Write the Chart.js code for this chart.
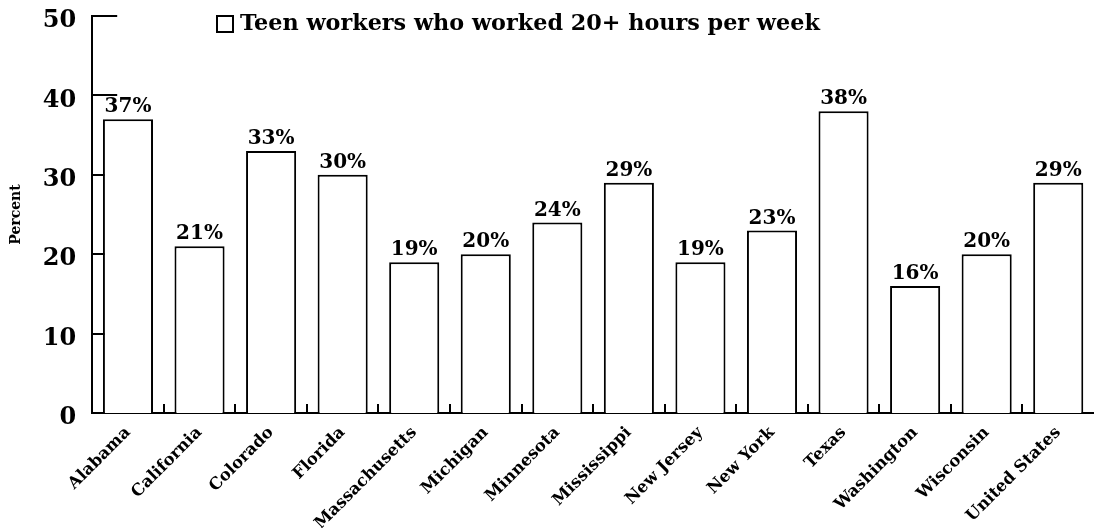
<!DOCTYPE html>
<html>
<head>
<meta charset="utf-8">
<script src="https://cdn.jsdelivr.net/npm/chart.js@4/dist/chart.umd.min.js"></script>
<style>
  html, body { margin: 0; padding: 0; background: #fff; }
  #wrap { width: 1094px; height: 528px; position: relative; }
</style>
</head>
<body>
<div id="wrap"><canvas id="chart"></canvas></div>
<script>
var states = ['Alabama', 'California', 'Colorado', 'Florida', 'Massachusetts', 'Michigan',
  'Minnesota', 'Mississippi', 'New Jersey', 'New York', 'Texas', 'Washington', 'Wisconsin',
  'United States'];
var teenPercent = [37, 21, 33, 30, 19, 20, 24, 29, 19, 23, 38, 16, 20, 29];
var seriesLabel = 'Teen workers who worked 20+ hours per week';
var yTicks = [0, 10, 20, 30, 40, 50];

var serif = '"DejaVu Serif", "Liberation Serif", serif';

// inward ticks on both axes, drawn under the bars so white bars hide them
var axisTicks = {
  id: 'axisTicks',
  beforeDatasetsDraw: function (chart) {
    var ctx = chart.ctx;
    var x = chart.scales.x;
    var y = chart.scales.y;
    var area = chart.chartArea;
    ctx.save();
    ctx.strokeStyle = '#000';
    ctx.lineWidth = 2;
    yTicks.forEach(function (v) {
      if (v === 0) return;
      var py = Math.round(y.getPixelForValue(v));
      ctx.beginPath();
      ctx.moveTo(area.left, py);
      ctx.lineTo(area.left + 25, py);
      ctx.stroke();
    });
    for (var i = 1; i < states.length; i++) {
      var px = Math.round((x.getPixelForValue(i - 1) + x.getPixelForValue(i)) / 2);
      ctx.beginPath();
      ctx.moveTo(px, area.bottom);
      ctx.lineTo(px, area.bottom - 9);
      ctx.stroke();
    }
    ctx.restore();
  }
};

var barLabels = {
  id: 'barLabels',
  afterDatasetsDraw: function (chart) {
    var ctx = chart.ctx;
    var meta = chart.getDatasetMeta(0);
    ctx.save();
    ctx.fillStyle = '#000';
    ctx.font = 'bold 20px ' + serif;
    ctx.textAlign = 'center';
    ctx.textBaseline = 'bottom';
    meta.data.forEach(function (bar, i) {
      ctx.fillText(teenPercent[i] + '%', bar.x, bar.y - 2);
    });
    ctx.restore();
  }
};

var legendBox = {
  id: 'legendBox',
  afterDraw: function (chart) {
    var ctx = chart.ctx;
    ctx.save();
    ctx.strokeStyle = '#000';
    ctx.lineWidth = 2;
    ctx.fillStyle = '#fff';
    ctx.fillRect(217, 16, 16, 16);
    ctx.strokeRect(217, 16, 16, 16);
    ctx.fillStyle = '#000';
    ctx.font = 'bold 22.3px ' + serif;
    ctx.textAlign = 'left';
    ctx.textBaseline = 'middle';
    ctx.fillText(chart.data.datasets[0].label, 240, 24);
    ctx.restore();
  }
};

new Chart(document.getElementById('chart'), {
  type: 'bar',
  data: {
    labels: states,
    datasets: [{
      label: seriesLabel,
      data: teenPercent,
      backgroundColor: '#fff',
      borderColor: '#000',
      borderWidth: 2,
      categoryPercentage: 1,
      barPercentage: 0.7
    }]
  },
  options: {
    responsive: true,
    maintainAspectRatio: false,
    animation: false,
    layout: { padding: { top: 16, right: 0, left: 4, bottom: 0 } },
    plugins: {
      legend: { display: false },
      tooltip: { enabled: false }
    },
    scales: {
      x: {
        grid: { display: false },
        border: { color: '#000', width: 2 },
        afterFit: function (scale) { scale.height = 115; },
        ticks: {
          color: '#000',
          font: { family: serif, weight: 'bold', size: 16.5 },
          maxRotation: 45,
          minRotation: 45,
          autoSkip: false,
          padding: 2
        }
      },
      y: {
        min: 0,
        max: 50,
        grid: { display: false, drawTicks: false },
        border: { color: '#000', width: 2 },
        afterFit: function (scale) { scale.paddingTop = 0; scale.paddingBottom = 0; },
        title: {
          display: true,
          text: 'Percent',
          color: '#000',
          font: { family: serif, weight: 'bold', size: 14 },
          padding: { top: 4, bottom: 2 }
        },
        ticks: {
          stepSize: 10,
          color: '#000',
          font: { family: serif, weight: 'bold', size: 24 },
          padding: 16,
          labelOffset: 5
        }
      }
    }
  },
  plugins: [axisTicks, barLabels, legendBox]
});
</script>
</body>
</html>
